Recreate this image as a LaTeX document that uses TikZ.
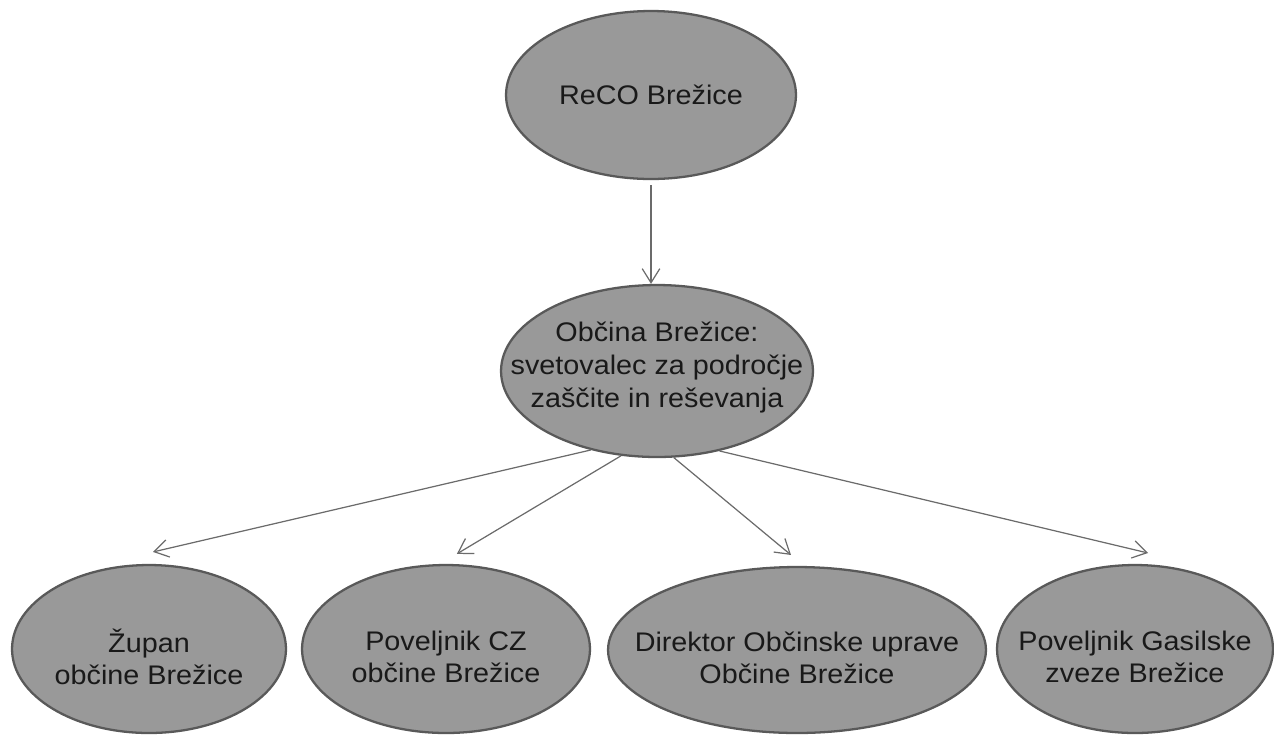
\documentclass[tikz,border=0pt]{standalone}
\usepackage{fontspec}
\setmainfont[FakeStretch=1.07]{Liberation Sans}
\usetikzlibrary{shapes.geometric,arrows.meta}

\begin{document}
\begin{tikzpicture}[x=0.02cm, y=-0.02cm,
    unit/.style={ellipse, draw=black!65, line width=1.3pt, fill=black!40, inner sep=0pt},
    txt/.style={align=center, inner sep=0pt, text=black!90, font=\fontsize{15.3}{18.6}\selectfont},
    link/.style={draw=black!58, line width=0.7pt, -{Straight Barb[length=8pt,width=10pt]}}
]
    \useasboundingbox (0,0) rectangle (1274,735);

    % Ellipses
    \node[unit, minimum width=5.8cm,  minimum height=3.36cm] (reco)   at (651,95)  {};
    \node[unit, minimum width=6.24cm, minimum height=3.44cm] (obcina) at (657,371) {};
    \node[unit, minimum width=5.48cm, minimum height=3.36cm] (zupan)  at (149,649) {};
    \node[unit, minimum width=5.76cm, minimum height=3.36cm] (cz)     at (446,649) {};
    \node[unit, minimum width=7.56cm, minimum height=3.32cm] (uprava) at (797,650) {};
    \node[unit, minimum width=5.52cm, minimum height=3.36cm] (gasilci) at (1135,649) {};

    % Texts
    \node[txt] (reco-txt)   at (reco)   {ReCO Brežice};
    \node[txt] (obcina-txt) at ([yshift=2pt]obcina) {Občina Brežice:\\svetovalec za področje\\zaščite in reševanja};
    \node[txt] (zupan-txt)  at ([yshift=-4.5pt]zupan)  {Župan\\občine Brežice};
    \node[txt] (cz-txt)     at ([yshift=-4.5pt]cz)     {Poveljnik CZ\\občine Brežice};
    \node[txt] (uprava-txt) at ([yshift=-4.5pt]uprava) {Direktor Občinske uprave\\Občine Brežice};
    \node[txt] (gasilci-txt) at ([yshift=-4.5pt]gasilci) {Poveljnik Gasilske\\zveze Brežice};

    % Arrows
    \draw[link, shorten <=3pt] (reco.south) -- (reco.south |- obcina.north);
    \draw[link] (obcina.230) -- ([xshift=2.3pt,yshift=6.8pt]zupan.north);
    \draw[link] (obcina.247) -- ([xshift=6.2pt,yshift=5.7pt]cz.north);
    \draw[link] (obcina.281) -- ([xshift=-3.4pt,yshift=6.2pt]uprava.north);
    \draw[link] (obcina.308) -- ([xshift=7.4pt,yshift=6.2pt]gasilci.north);
\end{tikzpicture}
\end{document}
